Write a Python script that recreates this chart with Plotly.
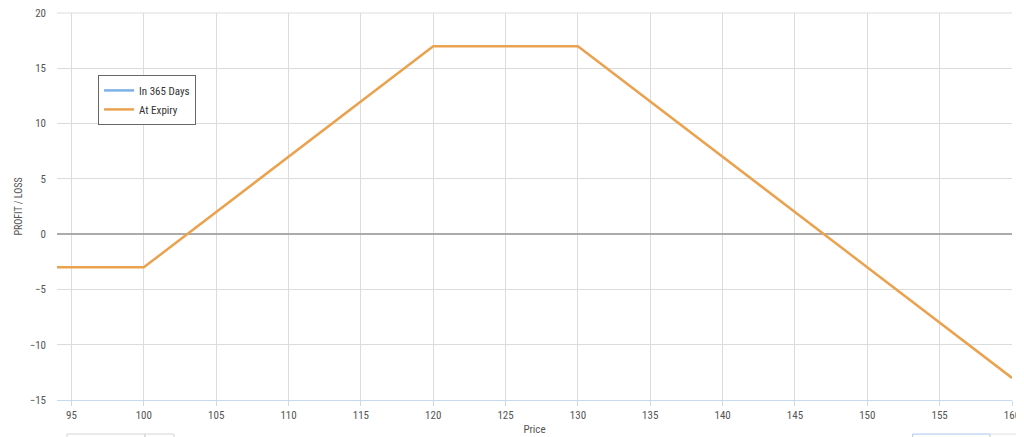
import plotly.graph_objects as go

price = [94, 100, 120, 130, 160]
expiry_pl = [-3, -3, 17, 17, -13]
days365_price = [None]
days365_pl = [None]
x_ticks = list(range(95, 161, 5))
y_ticks = list(range(-15, 21, 5))

font_family = "Roboto Condensed, Liberation Sans Narrow, DejaVu Sans Condensed, sans-serif"

fig = go.Figure()
fig.add_trace(go.Scatter(x=days365_price, y=days365_pl, mode="lines", name="In 365 Days",
                         line=dict(color="#7cb0e8", width=2.5)))
fig.add_trace(go.Scatter(x=price, y=expiry_pl, mode="lines", name="At Expiry",
                         line=dict(color="#eba24f", width=2.5)))

# faint partially visible controls below the chart
def box(x0, x1, color):
    fig.add_shape(type="rect", xref="paper", yref="paper", x0=x0, x1=x1, y0=-0.088, y1=-0.2,
                  line=dict(color=color, width=1), fillcolor="rgba(0,0,0,0)", layer="above")

box(0.0105, 0.0921, "#d4d4d4")
box(0.0921, 0.1225, "#d4d4d4")
box(0.896, 0.977, "#a9c8ee")
box(0.977, 1.0084, "#e0e0e0")

# top grid line at the upper edge of the plot area
fig.add_shape(type="line", xref="paper", yref="paper", x0=0, x1=1, y0=1, y1=1,
              line=dict(color="#dcdcdc", width=1), layer="below")

fig.update_layout(
    width=1016, height=429,
    margin=dict(l=49, r=12, t=5, b=37, autoexpand=False),
    paper_bgcolor="white", plot_bgcolor="white",
    font=dict(family=font_family, size=11, color="#555"),
    showlegend=True,
    legend=dict(x=0.043, y=0.84, xanchor="left", yanchor="top",
                bgcolor="white", bordercolor="#666", borderwidth=1,
                font=dict(size=11, color="#333"), tracegroupgap=0,
                itemwidth=30),
    xaxis=dict(range=[94, 160], tickvals=x_ticks, showgrid=True, gridcolor="#dcdcdc",
               zeroline=False, showline=True, linecolor="#c8d8ee", linewidth=1,
               ticks="outside", ticklen=5, tickcolor="#d0d8e6", automargin=False,
               ticklabeloverflow="allow",
               title=dict(text="Price", font=dict(size=11, color="#555"), standoff=4)),
    yaxis=dict(range=[-15, 20], tickvals=y_ticks, showgrid=True, gridcolor="#dcdcdc",
               zeroline=True, zerolinecolor="#ababab", zerolinewidth=2,
               ticks="", ticklabelstandoff=10, automargin=False,
               ticklabeloverflow="allow",
               title=dict(text="PROFIT / LOSS", font=dict(size=10, color="#555"), standoff=5)),
)

fig.write_html("out.html")
